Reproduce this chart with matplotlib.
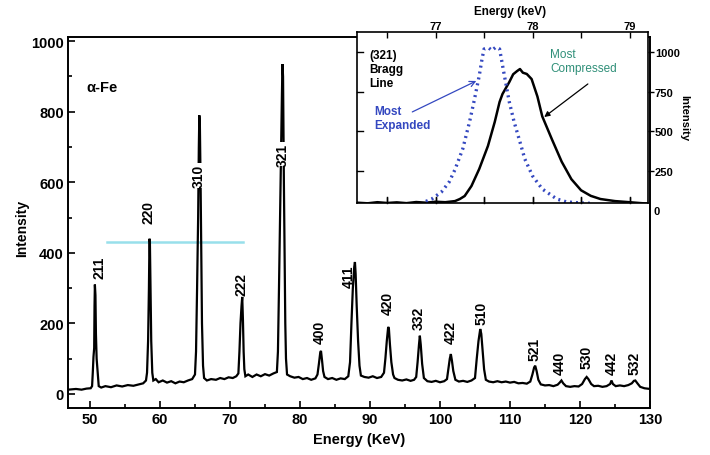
import matplotlib
matplotlib.use("Agg")
import matplotlib.pyplot as plt
from matplotlib.ticker import MultipleLocator, FixedLocator

plt.rcParams['font.family'] = ['Liberation Sans', 'DejaVu Sans']

# ---------------- data ----------------
main_energy = [46.9, 48.0, 48.8, 49.5, 50.1,
               50.3, 50.4, 50.5, 50.6, 50.65, 50.7, 50.78, 50.85, 50.95, 51.1, 51.25,
               51.6, 52.2, 53.0, 53.8, 54.6, 55.4, 56.2, 57.0, 57.6, 58.0,
               58.15, 58.3, 58.42, 58.5, 58.56, 58.65, 58.75, 58.9, 59.05,
               59.4, 59.8, 60.4, 61.0, 61.6, 62.2, 62.8, 63.4, 64.0, 64.6, 65.0,
               65.15, 65.3, 65.45, 65.55, 65.62, 65.7, 65.8, 65.9, 66.0, 66.15, 66.3,
               66.7, 67.3, 68.0, 68.6, 69.2, 69.8, 70.4, 70.9, 71.2,
               71.35, 71.5, 71.65, 71.75, 71.85, 71.95, 72.05, 72.2,
               72.6, 73.2, 73.8, 74.4, 75.0, 75.6, 76.2, 76.7,
               76.85, 77.0, 77.15, 77.3, 77.42, 77.5, 77.58, 77.7, 77.8, 77.9, 78.0, 78.15,
               78.6, 79.2, 79.8, 80.4, 81.0, 81.6, 82.2, 82.5,
               82.7, 82.9, 83.0, 83.15, 83.3, 83.5,
               84.0, 84.6, 85.2, 85.8, 86.4, 86.9,
               87.15, 87.35, 87.55, 87.75, 87.85, 87.95, 88.1, 88.3, 88.5, 88.7,
               89.2, 89.8, 90.4, 91.0, 91.6, 92.0,
               92.2, 92.4, 92.6, 92.7, 92.85, 93.05, 93.3, 93.5,
               94.0, 94.6, 95.2, 95.8, 96.3, 96.6,
               96.8, 97.0, 97.12, 97.25, 97.45, 97.7,
               98.2, 98.8, 99.4, 100.0, 100.6, 101.0,
               101.2, 101.4, 101.55, 101.7, 101.9, 102.2,
               102.7, 103.3, 103.9, 104.5, 105.0,
               105.25, 105.5, 105.75, 105.9, 106.1, 106.3, 106.55,
               107.0, 107.6, 108.2, 108.8, 109.4, 110.0, 110.6, 111.2, 111.8, 112.4, 112.9,
               113.2, 113.45, 113.6, 113.8, 114.05, 114.4,
               115.0, 115.6, 116.2, 116.8, 117.1, 117.35, 117.6, 118.0,
               118.6, 119.2, 119.8, 120.3, 120.7, 120.95, 121.2, 121.6, 122.0,
               122.6, 123.2, 123.8, 124.3, 124.5, 124.7, 125.1,
               125.7, 126.3, 126.9, 127.4, 127.7, 127.9, 128.2, 128.6,
               129.2, 129.6, 130.0]
main_intensity = [12, 14, 12, 15, 16,
                  22, 60, 105, 130, 250, 310, 280, 170, 100, 60, 22,
                  18, 22, 19, 24, 21, 25, 23, 27, 30, 38,
                  60, 150, 300, 440, 430, 300, 150, 60, 38,
                  42, 33, 38, 32, 36, 30, 35, 33, 38, 42, 55,
                  120, 300, 500, 700, 790, 760, 600, 400, 200, 80, 45,
                  38, 42, 40, 45, 42, 47, 45, 50, 58,
                  120, 200, 250, 275, 210, 120, 70, 50,
                  55, 48, 55, 50, 56, 52, 58, 62,
                  120, 300, 500, 700, 850, 935, 900, 600, 400, 200, 100, 55,
                  50, 46, 48, 42, 45, 40, 44, 55,
                  85, 118, 122, 95, 65, 48,
                  42, 45, 40, 44, 42, 50,
                  90, 200, 300, 360, 374, 340, 250, 150, 80, 52,
                  48, 46, 50, 45, 48, 60,
                  100, 150, 190, 185, 140, 90, 55, 45,
                  40, 38, 41, 37, 40, 48,
                  90, 140, 165, 140, 85, 45,
                  36, 34, 37, 33, 36, 42,
                  70, 100, 113, 95, 65, 40,
                  35, 37, 34, 38, 45,
                  100, 150, 184, 170, 120, 70, 40,
                  35, 33, 36, 33, 35, 32, 34, 30, 31, 29, 35,
                  55, 75, 80, 65, 40, 27,
                  24, 25, 22, 26, 32, 38, 30, 22,
                  20, 22, 21, 28, 42, 48, 42, 28, 22,
                  23, 20, 22, 28, 38, 28, 22,
                  24, 22, 25, 30, 37, 38, 30, 20,
                  16, 15, 14]

peak_labels = ['211', '220', '310', '222', '321', '400', '411', '420', '332',
               '422', '510', '521', '440', '530', '442', '532']

# inset: (321) Bragg line
inset_energy_comp = [76.19, 76.3, 76.4, 76.5, 76.6, 76.7, 76.8, 76.9, 77.0, 77.1, 77.2,
                     77.25, 77.3, 77.37, 77.45, 77.54, 77.61, 77.66, 77.69, 77.76, 77.8,
                     77.84, 77.87, 77.9, 77.94, 77.99, 78.05, 78.1, 78.2, 78.3, 78.4,
                     78.5, 78.6, 78.7, 78.85, 79.0, 79.1, 79.19]
inset_int_comp = [52, 48, 55, 50, 54, 49, 56, 52, 58, 55, 62,
                  75, 94, 157, 264, 409, 560, 686, 736, 811, 860,
                  880, 893, 870, 862, 830, 720, 595, 450, 310, 200,
                  130, 95, 75, 62, 55, 50, 46]
inset_energy_exp = [76.9, 76.96, 77.06, 77.14, 77.2, 77.28, 77.35, 77.4, 77.45, 77.48,
                    77.5, 77.55, 77.58, 77.62, 77.66, 77.71, 77.76, 77.81, 77.87, 77.92,
                    78.0, 78.1, 78.25, 78.35, 78.5, 78.6]
inset_int_exp = [60, 75, 119, 182, 260, 390, 560, 700, 850, 960,
                 1019, 1025, 1010, 1030, 1019, 850, 686, 560, 434, 327,
                 220, 138, 75, 57, 50, 48]

# ---------------- figure ----------------
fig = plt.figure(figsize=(7.10, 4.56), dpi=100)
ax = fig.add_axes([68/710, 1-409/456, (650-68)/710, (409-38)/456])

ax.plot(main_energy, main_intensity, color='black', lw=1.6, solid_joinstyle='miter')
# faint cyan highlighter stroke present in the scan
ax.plot([52.4, 71.9], [431, 431], color='#7fd8e6', lw=1.8, alpha=0.8, zorder=1)

ax.set_xlim(46.86, 130)
ax.set_ylim(-40, 1012)
ax.xaxis.set_major_locator(MultipleLocator(10))
ax.xaxis.set_minor_locator(MultipleLocator(5))
ax.yaxis.set_major_locator(MultipleLocator(200))
ax.yaxis.set_minor_locator(MultipleLocator(100))
ax.tick_params(which='both', direction='in', width=1.2)
ax.tick_params(which='major', length=5, labelsize=10.5, pad=3)
ax.tick_params(which='minor', length=3)
for lab in ax.get_xticklabels() + ax.get_yticklabels():
    lab.set_fontweight('bold')
for sp in ax.spines.values():
    sp.set_linewidth(1.4)

# peak labels (pixel-read centers converted to data coords)
lab_x = [51.4, 58.3, 65.6, 71.6, 77.6, 82.8, 86.9, 92.6, 97.0,
         101.5, 105.9, 113.5, 117.1, 120.9, 124.5, 127.8]
lab_y = [360, 518, 620, 312, 680, 178, 334, 260, 218,
         176, 232, 128, 90, 105, 90, 88]
for t, x, y in zip(peak_labels, lab_x, lab_y):
    kw = {}
    if t in ('310', '321'):
        kw['bbox'] = dict(boxstyle='square,pad=0.05', facecolor='white',
                          edgecolor='none')
    ax.text(x, y, t, rotation=90, ha='center', va='center', fontsize=10,
            fontweight='bold', color='black', **kw)

ax.text(49.5, 870, 'α-Fe', fontsize=10.5, fontweight='bold', ha='left', va='center')

fig.text(22/710, 1-228/456, 'Intensity', rotation=90, ha='center', va='center',
         fontsize=10, fontweight='bold')
fig.text(359/710, 1-440/456, 'Energy (KeV)', ha='center', va='center',
         fontsize=10.5, fontweight='bold')

# ---------------- inset ----------------
axi = fig.add_axes([357/710, 1-204/456, (648-357)/710, (204-33)/456])
axi.set_facecolor('white')
axi.plot(inset_energy_comp, inset_int_comp, color='black', lw=1.8)
axi.plot(inset_energy_exp, inset_int_exp, color='#3448c0', lw=2.4,
         linestyle=(0, (0.6, 1.2)), dash_capstyle='butt')
axi.set_xlim(76.19, 79.19)
axi.set_ylim(50, 1126)
axi.xaxis.tick_top()
axi.xaxis.set_major_locator(FixedLocator([77, 78, 79]))
axi.xaxis.set_minor_locator(FixedLocator([76.5, 77.5, 78.5]))
axi.yaxis.tick_right()
axi.yaxis.set_major_locator(FixedLocator([250, 500, 750, 1000]))
axi.tick_params(axis='x', which='both', direction='in', top=True, bottom=True,
                labeltop=True, labelbottom=False, length=4, width=1, pad=1,
                labelsize=8)
axi.tick_params(axis='y', which='both', direction='out', right=True, left=False,
                labelright=True, labelleft=False, length=4, width=1, pad=1,
                labelsize=8)
for lab in axi.get_xticklabels() + axi.get_yticklabels():
    lab.set_fontweight('bold')
# inward ticks on the left spine
for yv in [250, 500, 750, 1000]:
    axi.plot([76.19, 76.25], [yv, yv], color='black', lw=1, clip_on=False)
# bottom inward ticks at every 0.5 keV
for xv in [76.5, 77, 77.5, 78, 78.5, 79]:
    axi.plot([xv, xv], [50, 85], color='black', lw=1, clip_on=False)
axi.text(1.018, -(212-204)/171, '0', transform=axi.transAxes,
         ha='left', va='center', fontsize=8, fontweight='bold', clip_on=False)
for sp in axi.spines.values():
    sp.set_linewidth(1.2)

axi.text(76.32, 1020, '(321)\nBragg\nLine', ha='left', va='top', fontsize=8.5,
         fontweight='bold', linespacing=1.25, color='black')
axi.text(76.37, 665, 'Most\nExpanded', ha='left', va='top', fontsize=8.5,
         fontweight='bold', linespacing=1.2, color='#3448c0')
axi.annotate('', xy=(77.42, 818), xytext=(76.76, 623),
             arrowprops=dict(arrowstyle='->', color='#3448c0', lw=0.9,
                             shrinkA=0, shrinkB=0))
axi.text(78.18, 1025, 'Most\nCompressed', ha='left', va='top', fontsize=8.5,
         linespacing=1.2, color='#2f8f78')
axi.annotate('', xy=(78.12, 591), xytext=(78.57, 799),
             arrowprops=dict(arrowstyle='-|>', color='black', lw=0.9,
                             facecolor='white', shrinkA=0, shrinkB=0,
                             mutation_scale=8))

fig.text(510/710, 1-12/456, 'Energy (keV)', ha='center', va='center',
         fontsize=8.5, fontweight='bold')
fig.text(684/710, 1-118/456, 'Intensity', rotation=-90, ha='center', va='center',
         fontsize=8, fontweight='bold')

fig.savefig('out.png', dpi=100)
